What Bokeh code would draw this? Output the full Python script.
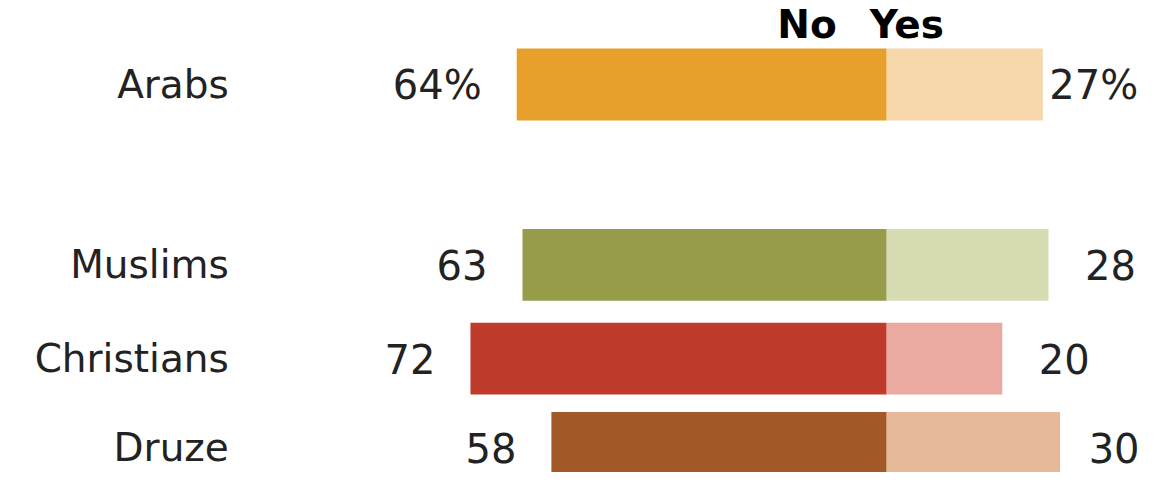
from bokeh.plotting import figure
from bokeh.models import Range1d, ColumnDataSource
from bokeh.core.properties import value
from bokeh.embed import file_html
from bokeh.resources import INLINE

# ---- data ----
groups = ["Arabs", "Muslims", "Christians", "Druze"]
no_vals = [64, 63, 72, 58]
yes_vals = [27, 28, 20, 30]
no_labels = ["64%", "63", "72", "58"]
yes_labels = ["27%", "28", "20", "30"]
header_no = "No"
header_yes = "Yes"

# ---- styles / layout ----
no_colors = ["#E8A02D", "#969C4A", "#BF3B2B", "#A25927"]
yes_colors = ["#F6D8AA", "#D8DCB3", "#EBAAA1", "#E6BA98"]
yes_label_offsets = [51, 62, 62, 54]
row_pos = [0.0, 1.96, 2.98, 3.95]
bar_h = 0.78
label_x = -113.8
header_y = -0.652
FONT = "DejaVu Sans"
TXT = "#222222"

src = ColumnDataSource(dict(
    group=groups, no=no_vals, yes=yes_vals,
    neg_no=[-v for v in no_vals], no_lab=no_labels, yes_lab=yes_labels,
    y=row_pos, no_col=no_colors, yes_col=yes_colors,
    lab_x=[label_x] * len(groups), yes_off=yes_label_offsets,
))

p = figure(width=1144, height=472, output_backend="svg", toolbar_location=None,
           x_range=Range1d(-153.3, 44.6), y_range=Range1d(4.217, -0.913),
           x_axis_location=None, y_axis_location=None, min_border=0)
p.grid.visible = False
p.outline_line_color = None
p.background_fill_color = "white"
p.border_fill_color = "white"

p.hbar(y="y", left="neg_no", right=0, height=bar_h, fill_color="no_col",
       line_color=None, source=src)
p.hbar(y="y", left=0, right="yes", height=bar_h, fill_color="yes_col",
       line_color=None, source=src)

p.text(x="neg_no", y="y", text="no_lab", source=src, text_align="right",
       text_baseline="middle", x_offset=-35, text_font=value(FONT),
       text_font_size="40px", text_color=TXT)
p.text(x="yes", y="y", text="yes_lab", source=src, text_align="center",
       text_baseline="middle", x_offset="yes_off", text_font=value(FONT),
       text_font_size="40px", text_color=TXT)
p.text(x="lab_x", y="y", text="group", source=src, text_align="right",
       text_baseline="middle", text_font=value(FONT),
       text_font_size="39px", text_color=TXT)

p.text(x=[0], y=[header_y], text=[header_no], text_align="right",
       text_baseline="middle", x_offset=-50, text_font=value(FONT),
       text_font_style="bold", text_font_size="39px", text_color="#000000")
p.text(x=[0], y=[header_y], text=[header_yes], text_align="left",
       text_baseline="middle", x_offset=-17, text_font=value(FONT),
       text_font_style="bold", text_font_size="39px", text_color="#000000")

open("out.html", "w").write(file_html(p, INLINE))
